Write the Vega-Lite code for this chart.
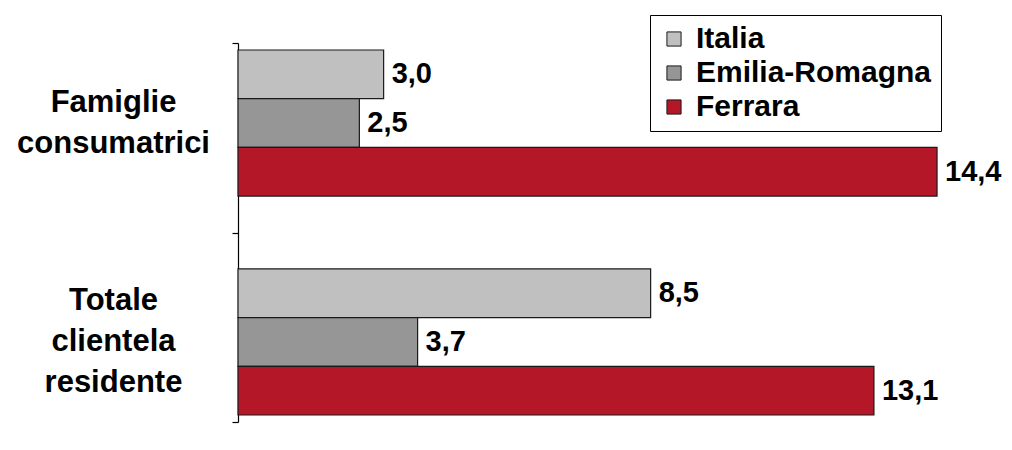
{
  "$schema": "https://vega.github.io/schema/vega-lite/v6.json",
  "width": 767,
  "height": 379,
  "autosize": {"type": "none"},
  "padding": {"left": 238, "top": 43, "right": 7, "bottom": 28},
  "background": "white",
  "config": {
    "view": {"stroke": null},
    "font": "Liberation Sans",
    "locale": {"number": {"decimal": ",", "thousands": ".", "grouping": [3], "currency": ["", " €"]}}
  },
  "datasets": {
    "valori": [
      {"categoria": "Famiglie consumatrici", "area": "Italia", "valore": 3.0},
      {"categoria": "Famiglie consumatrici", "area": "Emilia-Romagna", "valore": 2.5},
      {"categoria": "Famiglie consumatrici", "area": "Ferrara", "valore": 14.4},
      {"categoria": "Totale clientela residente", "area": "Italia", "valore": 8.5},
      {"categoria": "Totale clientela residente", "area": "Emilia-Romagna", "valore": 3.7},
      {"categoria": "Totale clientela residente", "area": "Ferrara", "valore": 13.1}
    ],
    "asse": [{"pos": 0}, {"pos": 1}, {"pos": 2}]
  },
  "layer": [
    {
      "data": {"name": "valori"},
      "encoding": {
        "y": {
          "field": "categoria",
          "type": "nominal",
          "sort": ["Famiglie consumatrici", "Totale clientela residente"],
          "scale": {"paddingInner": 0.333, "paddingOuter": 0.032},
          "axis": {
            "title": null,
            "domain": false,
            "ticks": false,
            "tickSize": 0,
            "labelAlign": "center",
            "labelBaseline": "middle",
            "labelPadding": 125,
            "labelFontSize": 31,
            "labelFontWeight": "bold",
            "labelColor": "black",
            "labelLineHeight": 41,
            "labelLimit": 0,
            "labelOffset": {"condition": {"test": "datum.value == 'Famiglie consumatrici'", "value": -20}, "value": -41},
            "labelExpr": "split(datum.label, ' ')"
          }
        },
        "yOffset": {
          "field": "area",
          "type": "nominal",
          "sort": ["Italia", "Emilia-Romagna", "Ferrara"],
          "scale": {"paddingInner": 0, "paddingOuter": 0}
        },
        "x": {
          "field": "valore",
          "type": "quantitative",
          "scale": {"domain": [0, 15.8], "nice": false},
          "axis": null
        }
      },
      "layer": [
        {
          "mark": {"type": "bar", "stroke": "#1a1a1a", "strokeWidth": 1.2},
          "encoding": {
            "color": {
              "field": "area",
              "type": "nominal",
              "sort": ["Italia", "Emilia-Romagna", "Ferrara"],
              "scale": {
                "domain": ["Italia", "Emilia-Romagna", "Ferrara"],
                "range": ["#C0C0C0", "#969696", "#B41728"]
              },
              "legend": {
                "title": null,
                "orient": "none",
                "legendX": 412,
                "legendY": -28,
                "direction": "vertical",
                "strokeColor": "black",
                "fillColor": "white",
                "padding": 9,
                "symbolType": "square",
                "symbolSize": 200,
                "symbolStrokeColor": "#1a1a1a",
                "symbolStrokeWidth": 1,
                "labelFontSize": 30,
                "labelFontWeight": "bold",
                "labelColor": "black",
                "labelOffset": 7,
                "rowPadding": 4,
                "labelLimit": 0
              }
            }
          }
        },
        {
          "mark": {"type": "text", "align": "left", "baseline": "middle", "dx": 8, "fontSize": 29, "fontWeight": "bold", "color": "black"},
          "encoding": {
            "text": {"field": "valore", "type": "quantitative", "format": ".1f"}
          }
        }
      ]
    },
    {
      "data": {"name": "asse"},
      "mark": {"type": "point", "opacity": 0},
      "encoding": {
        "y": {
          "field": "pos",
          "type": "quantitative",
          "scale": {"domain": [0, 2], "nice": false, "zero": false},
          "axis": {
            "orient": "left",
            "title": null,
            "values": [0, 1, 2],
            "labels": false,
            "grid": false,
            "domainColor": "black",
            "domainWidth": 1.2,
            "tickColor": "black",
            "tickWidth": 1.2,
            "tickSize": 6
          }
        }
      }
    }
  ],
  "resolve": {"scale": {"y": "independent"}, "axis": {"y": "independent"}}
}
